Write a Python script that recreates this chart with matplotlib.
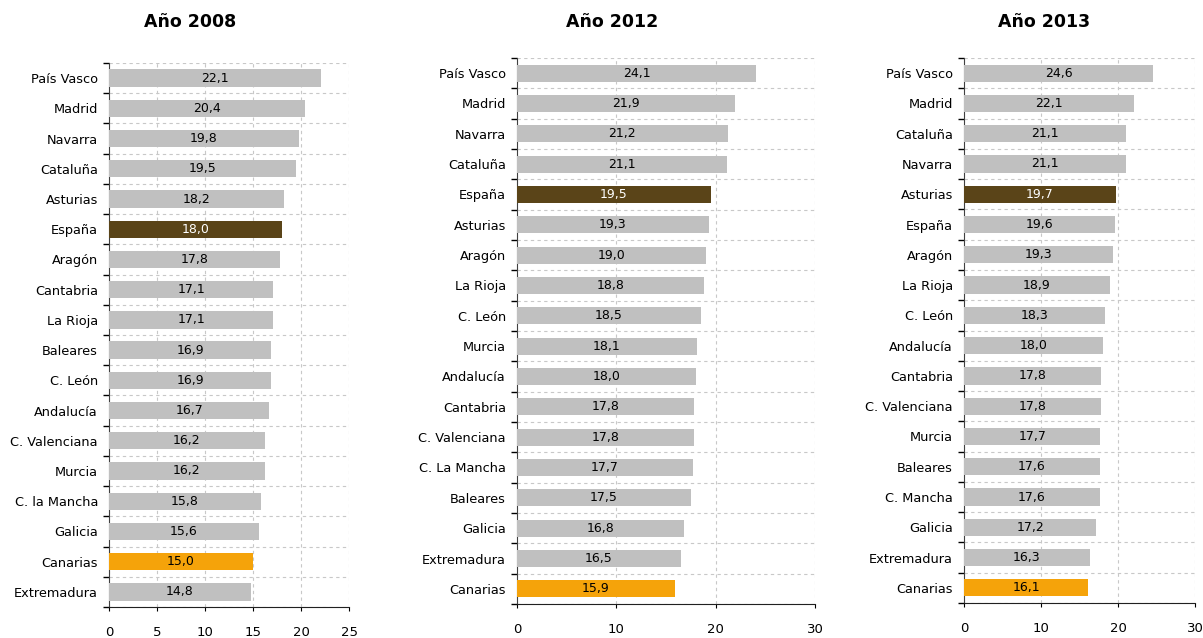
import numpy as np
import matplotlib
matplotlib.use("Agg")
from matplotlib import pyplot as plt

plt.rcParams['font.family'] = ['DejaVu Sans']

regions_2008 = ["País Vasco", "Madrid", "Navarra", "Cataluña", "Asturias", "España",
                "Aragón", "Cantabria", "La Rioja", "Baleares", "C. León", "Andalucía",
                "C. Valenciana", "Murcia", "C. la Mancha", "Galicia", "Canarias", "Extremadura"]
values_2008 = [22.1, 20.4, 19.8, 19.5, 18.2, 18.0, 17.8, 17.1, 17.1, 16.9, 16.9, 16.7,
               16.2, 16.2, 15.8, 15.6, 15.0, 14.8]

regions_2012 = ["País Vasco", "Madrid", "Navarra", "Cataluña", "España", "Asturias",
                "Aragón", "La Rioja", "C. León", "Murcia", "Andalucía", "Cantabria",
                "C. Valenciana", "C. La Mancha", "Baleares", "Galicia", "Extremadura", "Canarias"]
values_2012 = [24.1, 21.9, 21.2, 21.1, 19.5, 19.3, 19.0, 18.8, 18.5, 18.1, 18.0, 17.8,
               17.8, 17.7, 17.5, 16.8, 16.5, 15.9]

regions_2013 = ["País Vasco", "Madrid", "Cataluña", "Navarra", "Asturias", "España",
                "Aragón", "La Rioja", "C. León", "Andalucía", "Cantabria", "C. Valenciana",
                "Murcia", "Baleares", "C. Mancha", "Galicia", "Extremadura", "Canarias"]
values_2013 = [24.6, 22.1, 21.1, 21.1, 19.7, 19.6, 19.3, 18.9, 18.3, 18.0, 17.8, 17.8,
               17.7, 17.6, 17.6, 17.2, 16.3, 16.1]

dark_2008, dark_2012, dark_2013 = "España", "España", "Asturias"

GREY = "#c0c0c0"
DARK = "#5a4418"
ORANGE = "#f5a30a"

W, H = 1203, 638
fig = plt.figure(figsize=(W / 100, H / 100), dpi=100)


def panel(rect, title, title_x, regions, values, dark, xmax, step):
    ax = fig.add_axes(rect)
    n = len(regions)
    y = np.arange(n)
    colors = []
    for r in regions:
        if r == dark:
            colors.append(DARK)
        elif r == "Canarias":
            colors.append(ORANGE)
        else:
            colors.append(GREY)
    ax.barh(y, values, height=0.57, color=colors, zorder=3)
    for yi, v, r in zip(y, values, regions):
        ax.text(v / 2, yi, f"{v:.1f}".replace(".", ","), ha="center", va="center",
                fontsize=9, color="white" if r == dark else "black", zorder=4)
    ax.set_ylim(n - 0.5, -0.5)
    ax.set_xlim(0, xmax)
    ax.set_xticks(np.arange(0, xmax + 0.1, step))
    ax.set_yticks(np.arange(-0.5, n, 1.0))
    ax.set_yticklabels([])
    ax.set_yticks(y, minor=True)
    ax.set_yticklabels(regions, minor=True)
    ax.tick_params(axis="y", which="major", length=4, width=1, direction="out")
    ax.tick_params(axis="y", which="minor", length=0, pad=8, labelsize=9.3)
    ax.tick_params(axis="x", length=3, pad=11, labelsize=9.5)
    ax.grid(True, which="major", linestyle=(0, (3, 3)), color="#c8c8c8", linewidth=0.8, zorder=0)
    for s in ["top", "right"]:
        ax.spines[s].set_visible(False)
    ax.spines["left"].set_color("#404040")
    ax.spines["bottom"].set_color("#202020")
    fig.text(title_x / W, 1 - 22 / H, title, ha="center", va="center",
             fontsize=12.5, fontweight="bold")
    return ax


panel([109 / W, 1 - 607 / H, 240 / W, 544 / H], "Año 2008", 190,
      regions_2008, values_2008, dark_2008, 25, 5)
panel([517 / W, 1 - 604 / H, 298 / W, 546 / H], "Año 2012", 612,
      regions_2012, values_2012, dark_2012, 30, 10)
panel([964 / W, 1 - 603 / H, 231 / W, 545 / H], "Año 2013", 1044,
      regions_2013, values_2013, dark_2013, 30, 10)

fig.savefig("out.png", dpi=100)
